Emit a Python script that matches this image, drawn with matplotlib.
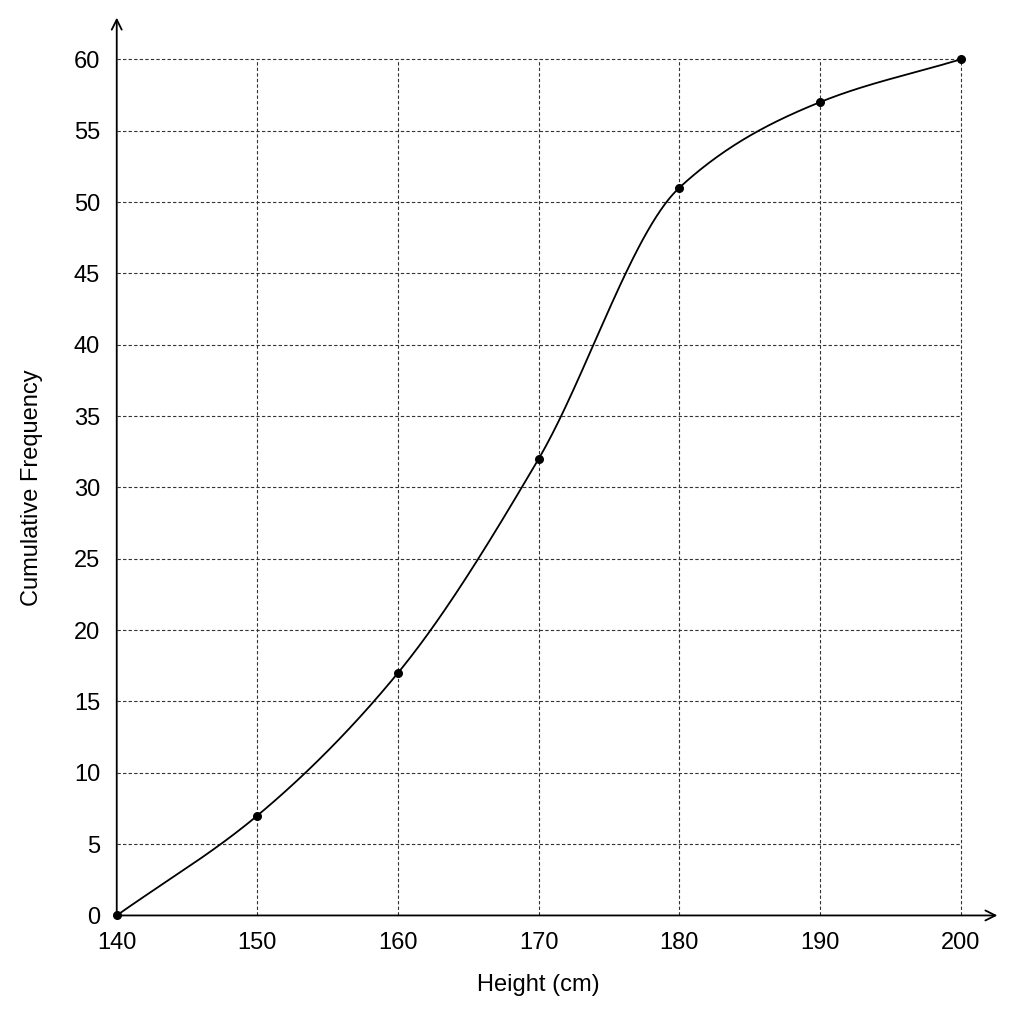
import numpy as np
import matplotlib
matplotlib.use("Agg")
import matplotlib.pyplot as plt

plt.rcParams['font.family'] = ['Liberation Sans Narrow', 'Liberation Sans', 'DejaVu Sans']

heights = [140, 150, 160, 170, 180, 190, 200]
cum_freq = [0, 7, 17, 32, 51, 57, 60]


def pchip(x, y, xs):
    # monotone cubic hermite, for the smooth ogive
    x = np.asarray(x, float)
    y = np.asarray(y, float)
    h = np.diff(x)
    d = np.diff(y) / h
    m = np.zeros_like(y)
    for k in range(1, len(x) - 1):
        if d[k - 1] * d[k] > 0:
            w1 = 2 * h[k] + h[k - 1]
            w2 = h[k] + 2 * h[k - 1]
            m[k] = (w1 + w2) / (w1 / d[k - 1] + w2 / d[k])
    m[0] = d[0]
    m[-1] = d[-1]
    out = np.empty_like(xs)
    for i, xv in enumerate(xs):
        k = min(np.searchsorted(x, xv, side='right') - 1, len(x) - 2)
        t = (xv - x[k]) / h[k]
        h00 = 2 * t**3 - 3 * t**2 + 1
        h10 = t**3 - 2 * t**2 + t
        h01 = -2 * t**3 + 3 * t**2
        h11 = t**3 - t**2
        out[i] = h00 * y[k] + h10 * h[k] * m[k] + h01 * y[k + 1] + h11 * h[k] * m[k + 1]
    return out


fig = plt.figure(figsize=(10.24, 10.24), dpi=100)
ax = fig.add_axes([0.114, 0.106, 0.824, 0.836])

xs = np.linspace(140, 200, 400)
ax.plot(xs, pchip(heights, cum_freq, xs), color='black', lw=1.3, clip_on=False)
ax.scatter(heights, cum_freq, color='black', s=30, zorder=3, clip_on=False)

for v in range(150, 201, 10):
    ax.plot([v, v], [0, 60], color='#333333', ls=(0, (3, 2)), lw=0.8, zorder=0, clip_on=False)
for v in range(5, 61, 5):
    ax.plot([140, 200], [v, v], color='#333333', ls=(0, (3, 2)), lw=0.8, zorder=0, clip_on=False)

ax.set_xlim(140, 200)
ax.set_ylim(0, 60)
for s in ax.spines.values():
    s.set_visible(False)
ax.annotate('', xy=(1.047, 0), xytext=(0, 0), xycoords='axes fraction',
            arrowprops=dict(arrowstyle='->', color='black', lw=1.3, mutation_scale=18))
ax.annotate('', xy=(0, 1.052), xytext=(0, 0), xycoords='axes fraction',
            arrowprops=dict(arrowstyle='->', color='black', lw=1.3, mutation_scale=18))

ax.set_xticks(range(140, 201, 10))
ax.set_yticks(range(0, 61, 5))
ax.tick_params(axis='x', length=0, labelsize=17, pad=12)
ax.tick_params(axis='y', length=0, labelsize=17, pad=12)
ax.set_xlabel('Height (cm)', fontsize=17, labelpad=14)
ax.set_ylabel('Cumulative Frequency', fontsize=17, labelpad=22)

fig.savefig('out.png', dpi=100, facecolor='white')
